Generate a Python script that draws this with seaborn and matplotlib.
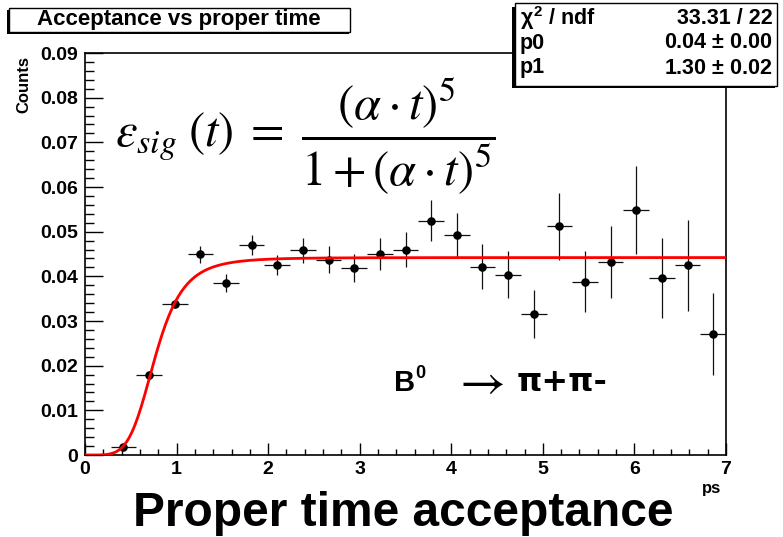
import numpy as np
import pandas as pd
import matplotlib
matplotlib.use("Agg")
import matplotlib.pyplot as plt
from matplotlib.patches import Rectangle
from matplotlib.ticker import MultipleLocator, FuncFormatter
import seaborn as sns

# Binned acceptance (bin width 0.28 ps)
t_centers = [0.42, 0.70, 0.98, 1.26, 1.54, 1.82, 2.10, 2.38, 2.66, 2.94, 3.22, 3.50,
             3.78, 4.06, 4.34, 4.62, 4.90, 5.18, 5.46, 5.74, 6.02, 6.30, 6.58, 6.86]
acceptance = [0.0017, 0.0179, 0.0339, 0.0449, 0.0386, 0.0470, 0.0425, 0.0458,
              0.0437, 0.0418, 0.0450, 0.0460, 0.0524, 0.0493, 0.0422, 0.0404,
              0.0316, 0.0512, 0.0388, 0.0432, 0.0548, 0.0396, 0.0425, 0.0271]
acc_err = [0.0005, 0.0010, 0.0010, 0.0020, 0.0020, 0.0022, 0.0023, 0.0028,
           0.0030, 0.0031, 0.0035, 0.0040, 0.0046, 0.0049, 0.0050, 0.0053,
           0.0053, 0.0075, 0.0068, 0.0081, 0.0099, 0.0090, 0.0102, 0.0092]
bin_half_width = 0.14

# Fit parameters
p0 = 0.0442
p1 = 1.30
fit_stats = [("$\\chi^2$ / ndf", "33.31 / 22"), ("p0", "0.04 $\\pm$ 0.00"), ("p1", "1.30 $\\pm$ 0.02")]

y_ticks = [0.0, 0.01, 0.02, 0.03, 0.04, 0.05, 0.06, 0.07, 0.08, 0.09]
x_ticks = [0, 1, 2, 3, 4, 5, 6, 7]

sns.set_theme(style="white")
plt.rcParams["font.family"] = ["Liberation Sans", "DejaVu Sans"]
plt.rcParams["font.weight"] = "normal"
plt.rcParams["text.color"] = "black"
plt.rcParams["axes.labelcolor"] = "black"
plt.rcParams["xtick.color"] = "black"
plt.rcParams["ytick.color"] = "black"
plt.rcParams["mathtext.fontset"] = "custom"
plt.rcParams["mathtext.rm"] = "Liberation Sans:bold"
plt.rcParams["mathtext.it"] = "Liberation Sans:bold"
plt.rcParams["mathtext.bf"] = "Liberation Sans:bold"

W, H = 783, 537
fig = plt.figure(figsize=(W / 100, H / 100), dpi=100)
fig.patch.set_facecolor("white")


def fx(x):
    return x / W


def fy(y):
    return 1 - y / H


ax = fig.add_axes([fx(85), fy(455), fx(726) - fx(85), fy(53) - fy(455)])
ax.set_facecolor("white")

df = pd.DataFrame({"t": t_centers, "acc": acceptance, "err": acc_err})

ax.errorbar(df["t"], df["acc"], yerr=df["err"], xerr=bin_half_width, fmt="none",
            ecolor="#111111", elinewidth=0.9, capsize=0, zorder=2)
sns.scatterplot(data=df, x="t", y="acc", ax=ax, color="black", s=38,
                edgecolor="black", linewidth=0, zorder=3, legend=False)

tt = np.linspace(0, 7, 400)
fit_df = pd.DataFrame({"t": tt, "f": p0 * (p1 * tt) ** 5 / (1 + (p1 * tt) ** 5)})
sns.lineplot(data=fit_df, x="t", y="f", ax=ax, color="red", linewidth=2.0, zorder=4)

ax.set_xlim(0, 7)
ax.set_ylim(0, 0.09)
ax.set_xticks(x_ticks)
ax.set_yticks(y_ticks)
ax.xaxis.set_minor_locator(MultipleLocator(0.2))
ax.yaxis.set_minor_locator(MultipleLocator(0.002))
ax.yaxis.set_major_formatter(FuncFormatter(lambda v, p: "0" if abs(v) < 1e-9 else f"{v:.2f}"))
ax.xaxis.set_major_formatter(FuncFormatter(lambda v, p: f"{int(round(v))}"))
ax.tick_params(axis="y", which="major", direction="in", length=13, width=1.0, labelsize=14, pad=5,
               left=True, right=False)
ax.tick_params(axis="y", which="minor", direction="in", length=6.5, width=1.0, left=True, right=False)
ax.tick_params(axis="x", which="major", direction="in", length=9, width=1.0, labelsize=14, pad=4,
               bottom=True, top=False)
ax.tick_params(axis="x", which="minor", direction="in", length=4.5, width=1.0, bottom=True, top=False)
for s in ax.spines.values():
    s.set_color("black")
    s.set_linewidth(1.2)
ax.set_xlabel("")
ax.set_ylabel("")
fig.canvas.draw()
for lbl in ax.get_xticklabels() + ax.get_yticklabels():
    lbl.set_fontweight("bold")

# Axis titles
fig.text(fx(24), fy(56), "Counts", rotation=90, ha="center", va="top", fontsize=12, fontweight="bold")
fig.text(fx(712), fy(488), "ps", ha="center", va="center", fontsize=12, fontweight="bold")

# Title box
fig.patches.append(Rectangle((fx(7), fy(34)), fx(342), fy(10) - fy(34), transform=fig.transFigure,
                             facecolor="black", edgecolor="none", zorder=5))
fig.patches.append(Rectangle((fx(9), fy(32)), fx(341), fy(8) - fy(32), transform=fig.transFigure,
                             facecolor="white", edgecolor="black", linewidth=1.0, zorder=6))
fig.text(fx(179), fy(20), "Acceptance vs proper time", ha="center", va="center",
         fontsize=16, fontweight="bold", zorder=7)

# Fit statistics box
fig.patches.append(Rectangle((fx(512), fy(88)), fx(263), fy(5) - fy(88) - (fy(86) - fy(88)),
                             transform=fig.transFigure, facecolor="black", edgecolor="none", zorder=5))
fig.patches.append(Rectangle((fx(515), fy(86)), fx(262), fy(3) - fy(86), transform=fig.transFigure,
                             facecolor="white", edgecolor="black", linewidth=1.0, zorder=6))
for i, (name, val) in enumerate(fit_stats):
    yy = 18 + 25 * i
    fig.text(fx(520), fy(yy), name, ha="left", va="center", fontsize=15.5, fontweight="bold", zorder=7)
    fig.text(fx(773), fy(yy), val, ha="right", va="center", fontsize=15.5, fontweight="bold", zorder=7)

# Acceptance function
fig.text(fx(495), fy(136),
         r"$\varepsilon_{sig}\;(t)\;=\;\dfrac{(\alpha \cdot t)^{5}}{1 + (\alpha \cdot t)^{5}}$",
         ha="right", va="center", fontsize=35, fontweight="normal", math_fontfamily="stix", zorder=7)

# Decay channel label
fig.text(fx(394), fy(391), "B", ha="left", va="baseline", fontsize=21, fontweight="bold")
fig.text(fx(415), fy(378), "0", ha="left", va="baseline", fontsize=13, fontweight="bold")
fig.text(fx(478), fy(383), r"$\rightarrow$", ha="center", va="center", fontsize=36,
         fontweight="normal", math_fontfamily="stix")
fig.text(fx(517), fy(391), "\u03c0+\u03c0-", ha="left", va="baseline", fontsize=23, fontweight="bold",
         family=["DejaVu Sans"])

# Caption
fig.text(fx(403), fy(513), "Proper time acceptance", ha="center", va="center",
         fontsize=34.5, fontweight="bold")

fig.savefig("out.png", dpi=100, facecolor="white")
